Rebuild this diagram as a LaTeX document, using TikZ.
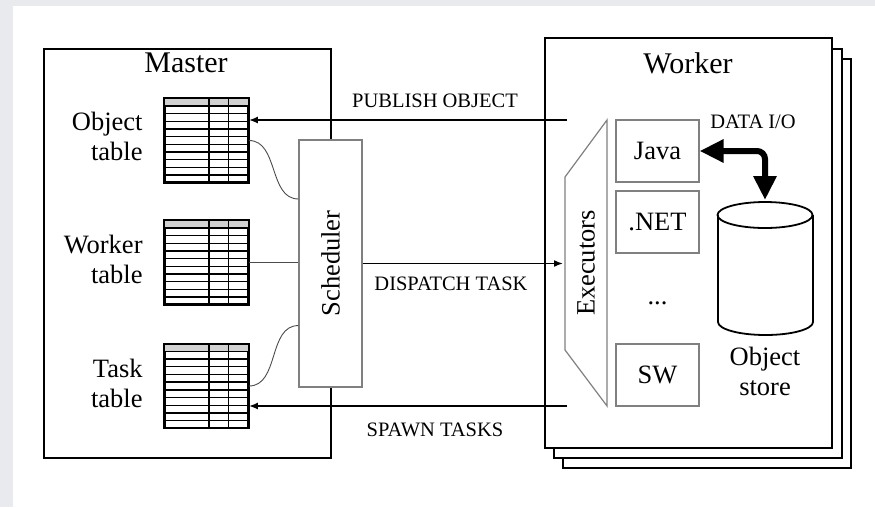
\documentclass[tikz,border=0pt]{standalone}
\usepackage{fontspec}
\setmainfont{Liberation Serif}
\usetikzlibrary{calc}
\usetikzlibrary{positioning}
\usetikzlibrary{arrows.meta}

\definecolor{pagegray}{HTML}{E8EAED}
\definecolor{linegray}{gray}{0.5}

\begin{document}
\begin{tikzpicture}[x=1pt,y=-1pt,
    titlefont/.style={font=\fontsize{30}{34}\selectfont},
    bigfont/.style={font=\fontsize{26.5}{30}\selectfont},
    capfont/.style={font=\fontsize{20.5}{23}\selectfont},
    hostbox/.style={draw,line width=2pt,fill=white,inner sep=0pt},
    tablebox/.style={draw,line width=1.8pt,minimum width=83pt,minimum height=83pt,inner sep=0pt},
    graybox/.style={draw=linegray,line width=1.2pt,fill=white,inner sep=0pt},
    runbox/.style={graybox,bigfont,minimum width=83pt,minimum height=62pt},
    linkline/.style={line width=0.9pt,black!70},
    msgarrow/.style={line width=1.6pt,-{Latex[length=9pt,width=7pt]}}]

    % Page:
    \fill [pagegray] (0,0) rectangle (875,507);
    \fill [white] (13,6) rectangle (875,507);
    \useasboundingbox (0,0) rectangle (875,507);

    % Hosts:
    % The worker is a stack of three boxes, drawn back to front:
    \node [hostbox,minimum width=287pt,minimum height=409pt] (master) at (187,253) {};
    \node [hostbox,minimum width=288pt,minimum height=409pt] (worker3) at (707,263.5) {};
    \node [hostbox,minimum width=288pt,minimum height=409pt] (worker2) at (698,253.5) {};
    \node [hostbox,minimum width=287pt,minimum height=410pt] (worker) at (688.5,243) {};
    \node [titlefont] (mtitle) at (186,63) {Master};
    \node [titlefont] (wtitle) at (688,63) {Worker};

    % Tables:
    \node [tablebox] (otab) at (206.5,140.5) {};
    \node [tablebox] (wtab) at (206.5,262.5) {};
    \node [tablebox] (ttab) at (206.5,386) {};
    \foreach \t in {otab,wtab,ttab} {
        \fill [gray!35] ($(\t.north west)+(1,1)$) rectangle ($(\t.north east)!1/11!(\t.south east)$);
        \foreach \r in {1,...,10}
            \draw [line width=1.4pt] ($(\t.north west)!\r/11!(\t.south west)$) -- ($(\t.north east)!\r/11!(\t.south east)$);
        \foreach \c in {0.53,0.76}
            \draw [line width=1.4pt] ($(\t.north west)!\c!(\t.north east)$) -- ($(\t.south west)!\c!(\t.south east)$);
        \draw [line width=1.8pt] (\t.north west) rectangle (\t.south east);
    }
    \node [bigfont,align=right,left=18pt of otab,yshift=4pt] (olabel) {Object\\table};
    \node [bigfont,align=right,left=18pt of wtab,yshift=3pt] (wlabel) {Worker\\table};
    \node [bigfont,align=right,left=18pt of ttab,yshift=3pt] (tlabel) {Task\\table};

    % Scheduler:
    \node [graybox,minimum width=63pt,minimum height=247pt] (sched) at (330.5,263.5) {};
    \node [bigfont,rotate=90] (schedtext) at (sched.center) {Scheduler};
    \draw [linkline] (otab.east) to[out=0,in=180] ($(sched.north west)!0.24!(sched.south west)$);
    \draw [linkline] (wtab.east) -- (wtab.east -| sched.west);
    \draw [linkline] (ttab.east) to[out=0,in=180] ($(sched.north west)!0.75!(sched.south west)$);

    % Executors:
    \draw [linegray,line width=1.2pt,fill=white] (607,120) -- (607,406) -- (565,350) -- (565,177) -- cycle;
    \node [bigfont,rotate=90] (exectext) at (586,263) {Executors};
    \coordinate (execin) at (563,263.5);
    \node [runbox] (java) at (657.5,151) {Java};
    \node [runbox] (dotnet) at (657.5,222) {.NET};
    \node [bigfont] (dots) at (657.5,303) {...};
    \node [runbox] (sw) at (657.5,375) {SW};

    % Object store:
    \draw [line width=1.8pt,fill=white] (718,215) -- (718,322) arc[start angle=180,end angle=0,x radius=47.5,y radius=13] -- (813,215);
    \draw [line width=1.8pt] (765,215) ellipse [x radius=47.5,y radius=13];
    \coordinate (storetop) at (765,200);
    \node [bigfont,align=center] (storelabel) at (765,371) {Object\\store};
    \draw [line width=6pt,rounded corners=8pt,{Triangle[length=24pt,width=22pt]}-{Triangle[length=24pt,width=22pt]}]
        (java.east) -- (java.east -| storetop) -- (storetop);
    \node [capfont] (dataio) at (753,122) {DATA I/O};

    % Messages:
    \coordinate (pubfrom) at (567,120);
    \coordinate (spawnfrom) at (567,406);
    \draw [msgarrow] (pubfrom) -- (pubfrom -| otab.east);
    \draw [msgarrow] (sched.east) -- (execin);
    \draw [msgarrow] (spawnfrom) -- (spawnfrom -| ttab.east);
    \node [capfont] (publabel) at (435,101) {PUBLISH OBJECT};
    \node [capfont] (displabel) at (451,284) {DISPATCH TASK};
    \node [capfont] (spawnlabel) at (435,430) {SPAWN TASKS};
\end{tikzpicture}
\end{document}
